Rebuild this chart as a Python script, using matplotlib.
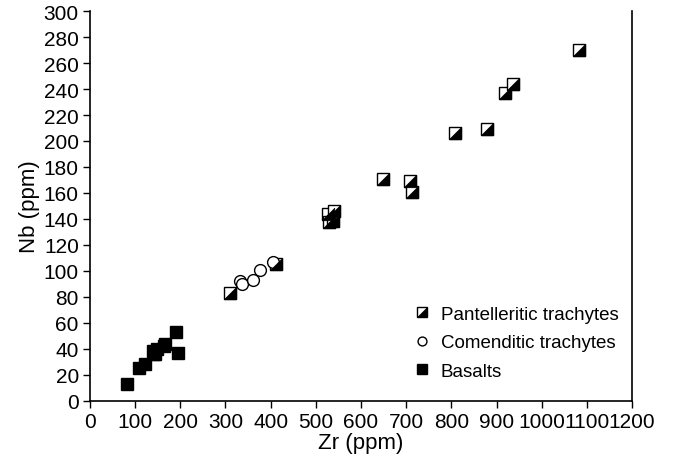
import matplotlib
matplotlib.use('Agg')
import matplotlib.pyplot as plt
from matplotlib.legend_handler import HandlerTuple

plt.rcParams['font.family'] = ['Liberation Sans', 'DejaVu Sans']

# Pantelleritic trachytes
pan_zr = [311, 413, 526, 529, 540, 539, 648, 709, 713, 807, 878, 918, 937, 1082]
pan_nb = [83, 105, 143.5, 137.5, 146, 138.5, 171, 169, 161, 206, 209, 237, 243.5, 270]

# Comenditic trachytes
com_zr = [332, 337, 361, 376, 406]
com_nb = [92, 90, 93, 101, 107]

# Basalts
bas_zr = [81, 109, 122, 139, 141, 144, 148, 163, 167, 190, 196]
bas_nb = [13, 25, 28, 38.5, 36, 36, 40, 42, 43.5, 53, 37]

xticks = list(range(0, 1201, 100))
yticks = list(range(0, 301, 20))

fig = plt.figure(figsize=(6.76, 4.64), dpi=100)
ax = fig.add_axes([0.133, 0.134, 0.802, 0.840])

ms = 9.0
lower_right = [(-1, -1), (1, -1), (1, 1), (-1, -1)]

# half-filled squares: white square + black lower-right triangle
sq, = ax.plot(pan_zr, pan_nb, ls='none', marker='s', ms=ms, mfc='white',
              mec='black', mew=1.0, zorder=3)
tri, = ax.plot(pan_zr, pan_nb, ls='none', marker=lower_right, ms=ms,
               mfc='black', mec='black', mew=0.5, zorder=4)
circ, = ax.plot(com_zr, com_nb, ls='none', marker='o', ms=8.5, mfc='white',
                mec='black', mew=1.0, zorder=3)
bas, = ax.plot(bas_zr, bas_nb, ls='none', marker='s', ms=ms, mfc='black',
               mec='black', zorder=3)

ax.set_xlim(0, 1200)
ax.set_ylim(0, 300)
ax.set_xticks(xticks)
ax.set_yticks(yticks)
ax.tick_params(direction='out', length=5, width=1, labelsize=15, colors='black',
               pad=3)
ax.spines['top'].set_visible(False)
for s in ['left', 'right', 'bottom']:
    ax.spines[s].set_linewidth(1.2)

ax.set_xlabel('Zr (ppm)', fontsize=16, labelpad=1)
ax.set_ylabel('Nb (ppm)', fontsize=16, labelpad=3)

leg = ax.legend([(sq, tri), circ, bas],
                ['Pantelleritic trachytes', 'Comenditic trachytes', 'Basalts'],
                handler_map={tuple: HandlerTuple(ndivide=1)},
                loc='lower right', bbox_to_anchor=(1.006, 0.01), frameon=False,
                fontsize=13.5, handlelength=1.0, handletextpad=0.5,
                labelspacing=0.62, markerscale=0.75)

fig.savefig('out.png', dpi=100)
